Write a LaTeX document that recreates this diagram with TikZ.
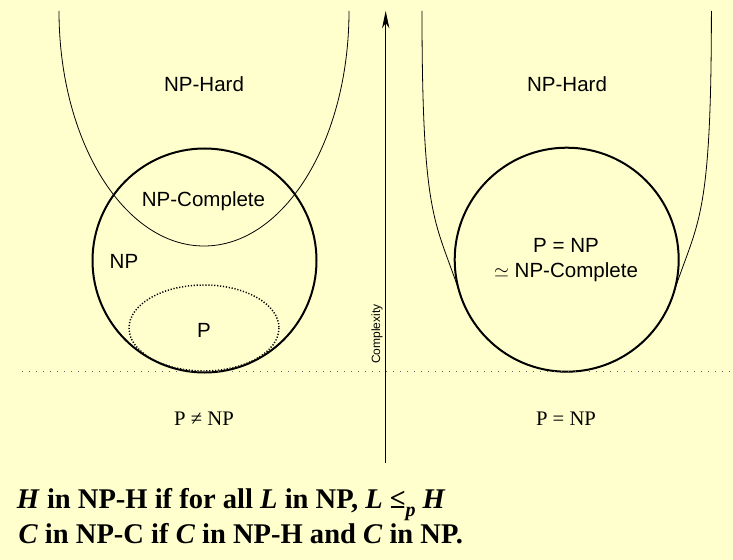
\documentclass[tikz,border=0pt]{standalone}
\usepackage{fontspec}
\setmainfont{Liberation Serif}
\setsansfont{Liberation Sans}
\usetikzlibrary{arrows.meta}
\definecolor{bg}{RGB}{255,255,206}
\tikzset{
  thincurve/.style={line width=0.6pt, black},
  setcircle/.style={line width=1.5pt, black},
  pdots/.style={line width=1.1pt, dash pattern=on 0.9pt off 1.3pt},
  levelline/.style={line width=0.7pt, black!60, dash pattern=on 0.6pt off 4.65pt},
  lbl/.style={font=\sffamily\fontsize{15.4}{18}\selectfont, inner sep=0pt, anchor=base},
  bot/.style={font=\fontsize{15.5}{18}\selectfont, inner sep=0pt, anchor=base},
  rule/.style={font=\bfseries\fontsize{21.4}{24}\selectfont, inner sep=0pt, anchor=base west},
}
\begin{document}
\begin{tikzpicture}[x=0.75pt,y=-0.75pt]
\fill[bg] (0,0) rectangle (733,560);
\useasboundingbox (0,0) rectangle (733,560);

% left side: P != NP
\draw[thincurve] (59,11) arc[start angle=180,end angle=0,x radius=145,y radius=235];
\draw[setcircle] (204.5,260.5) circle[radius=112];
\begin{scope}
  \clip (204.5,260.5) circle[radius=111];
  \draw[pdots] (204,328) ellipse[x radius=75,y radius=43];
\end{scope}
\node[lbl] (nphL) at (204,91.6) {NP-Hard};
\node[lbl] (npcL) at (203.5,206) {NP-Complete};
\node[lbl] (npL) at (124,268.3) {NP};
\node[lbl] (pL) at (204,337.3) {P};

% right side: P = NP
\draw[thincurve] (422,11) .. controls (422,225) and (436,220) .. (460.4,295.1)
  arc[start angle=161.6,end angle=18.4,radius=112]
  .. controls (697.4,220) and (711.4,225) .. (711.4,11);
\draw[setcircle] (566.7,259.7) circle[radius=112];
\node[lbl] (nphR) at (567,91.6) {NP-Hard};
\node[lbl] (peq) at (566,252.6) {P = NP};
\node[lbl] (npcR) at (566,277.6) {$\simeq$ NP-Complete};

% level line and axis
\coordinate (lvA) at (22,371.5);
\coordinate (lvB) at (731,371.5);
\draw[levelline] (lvA) -- (lvB);
\coordinate (axB) at (385.7,462.7);
\coordinate (axT) at (385.7,11);
\draw[line width=0.75pt, -{Stealth[length=13pt,width=5.5pt,inset=4pt]}] (axB) -- (axT);
\node[rotate=90, font=\sffamily\fontsize{9}{10}\selectfont, inner sep=0pt] (cplx) at (377,334) {Complexity};

% bottom captions
\node[bot] (capL) at (204,425.7) {P ≠ NP};
\node[bot] (capR) at (566,425.7) {P = NP};

\node[rule] (r1) at (16.7,508.3) {\textit{H} in NP-H if for all \textit{L} in NP, \textit{L} ≤\raisebox{-0.3em}{\fontsize{15}{16}\selectfont\textit{p}} \textit{H}};
\node[rule] (r2) at (18.3,543.3) {\textit{C} in NP-C if \textit{C} in NP-H and \textit{C} in NP.};
\end{tikzpicture}
\end{document}
